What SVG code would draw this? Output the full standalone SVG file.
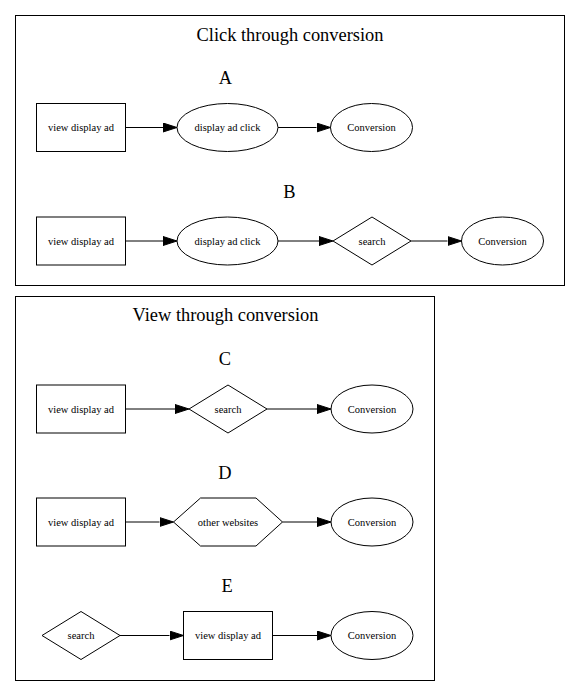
<svg xmlns="http://www.w3.org/2000/svg" width="581" height="697" viewBox="0 0 581 697">
<style>
.shape{fill:none;stroke:#000;stroke-width:1}
.cl{fill:none;stroke:#000;stroke-width:1}
.t{font-family:"Liberation Serif","Times New Roman",serif;font-size:10.5px;text-anchor:middle;fill:#000}
.h{font-family:"Liberation Serif","Times New Roman",serif;font-size:18.4px;text-anchor:middle;fill:#000}
.e{stroke:#000;stroke-width:1;fill:none;marker-end:url(#ah)}
</style>
<defs>
<marker id="ah" markerUnits="userSpaceOnUse" markerWidth="14" markerHeight="10" viewBox="0 0 14 10" refX="0" refY="5" orient="auto">
<path d="M0,0.5 L14,5 L0,9.5 z" fill="#000" stroke="#000" stroke-width="1"/>
</marker>
</defs>
<rect width="581" height="697" fill="#fff"/>
<g id="cluster_click">
<rect class="cl" x="15.5" y="15.5" width="549" height="270"/>
<text class="h" x="290" y="41">Click through conversion</text>
<text class="h" x="225.5" y="84">A</text>
<text class="h" x="289.5" y="197.5">B</text>
</g>
<g id="cluster_view">
<rect class="cl" x="15.5" y="296.5" width="419" height="384"/>
<text class="h" x="225.5" y="321">View through conversion</text>
<text class="h" x="225" y="365">C</text>
<text class="h" x="225" y="478.5">D</text>
<text class="h" x="227" y="592">E</text>
</g>
<g id="connectors">
<path class="e" d="M125.5,127.5 H163"/>
<path class="e" d="M278,127.5 H316.5"/>
<path class="e" d="M125.5,241 H163"/>
<path class="e" d="M278,241 H319"/>
<path class="e" d="M411,241 H447.5"/>
<path class="e" d="M125.5,409 H175"/>
<path class="e" d="M267,409 H317"/>
<path class="e" d="M125.5,522 H159.5"/>
<path class="e" d="M282.5,522 H317"/>
<path class="e" d="M120,635.5 H169.5"/>
<path class="e" d="M272.5,635.5 H317"/>
</g>
<g id="A_view">
<rect class="shape" x="36.5" y="103.5" width="89" height="48"/>
<text class="t" x="81" y="131.3">view display ad</text>
</g>
<g id="A_click">
<ellipse class="shape" cx="227.5" cy="127.5" rx="50.5" ry="24"/>
<text class="t" x="227.5" y="131.3">display ad click</text>
</g>
<g id="A_conversion">
<ellipse class="shape" cx="371.5" cy="127.5" rx="41" ry="24"/>
<text class="t" x="371.5" y="131.3">Conversion</text>
</g>
<g id="B_view">
<rect class="shape" x="36.5" y="217" width="89" height="48"/>
<text class="t" x="81" y="244.8">view display ad</text>
</g>
<g id="B_click">
<ellipse class="shape" cx="227.5" cy="241" rx="50.5" ry="24"/>
<text class="t" x="227.5" y="244.8">display ad click</text>
</g>
<g id="B_search">
<polygon class="shape" points="333,241 372,217 411,241 372,265"/>
<text class="t" x="372" y="244.8">search</text>
</g>
<g id="B_conversion">
<ellipse class="shape" cx="502.5" cy="241" rx="41" ry="24"/>
<text class="t" x="502.5" y="244.8">Conversion</text>
</g>
<g id="C_view">
<rect class="shape" x="36.5" y="385" width="89" height="48"/>
<text class="t" x="81" y="412.8">view display ad</text>
</g>
<g id="C_search">
<polygon class="shape" points="189,409 228,385 267,409 228,433"/>
<text class="t" x="228" y="412.8">search</text>
</g>
<g id="C_conversion">
<ellipse class="shape" cx="372" cy="409" rx="41" ry="24"/>
<text class="t" x="372" y="412.8">Conversion</text>
</g>
<g id="D_view">
<rect class="shape" x="36.5" y="498" width="89" height="48"/>
<text class="t" x="81" y="525.8">view display ad</text>
</g>
<g id="D_other">
<polygon class="shape" points="173.5,522 200.5,498 256,498 282.5,522 256,546 200.5,546"/>
<text class="t" x="228" y="525.8">other websites</text>
</g>
<g id="D_conversion">
<ellipse class="shape" cx="372" cy="522" rx="41" ry="24"/>
<text class="t" x="372" y="525.8">Conversion</text>
</g>
<g id="E_search">
<polygon class="shape" points="42,635.5 81,611.5 120,635.5 81,659.5"/>
<text class="t" x="81" y="639.3">search</text>
</g>
<g id="E_view">
<rect class="shape" x="183.5" y="611.5" width="89" height="48"/>
<text class="t" x="228" y="639.3">view display ad</text>
</g>
<g id="E_conversion">
<ellipse class="shape" cx="372" cy="635.5" rx="41" ry="24"/>
<text class="t" x="372" y="639.3">Conversion</text>
</g>
</svg>
